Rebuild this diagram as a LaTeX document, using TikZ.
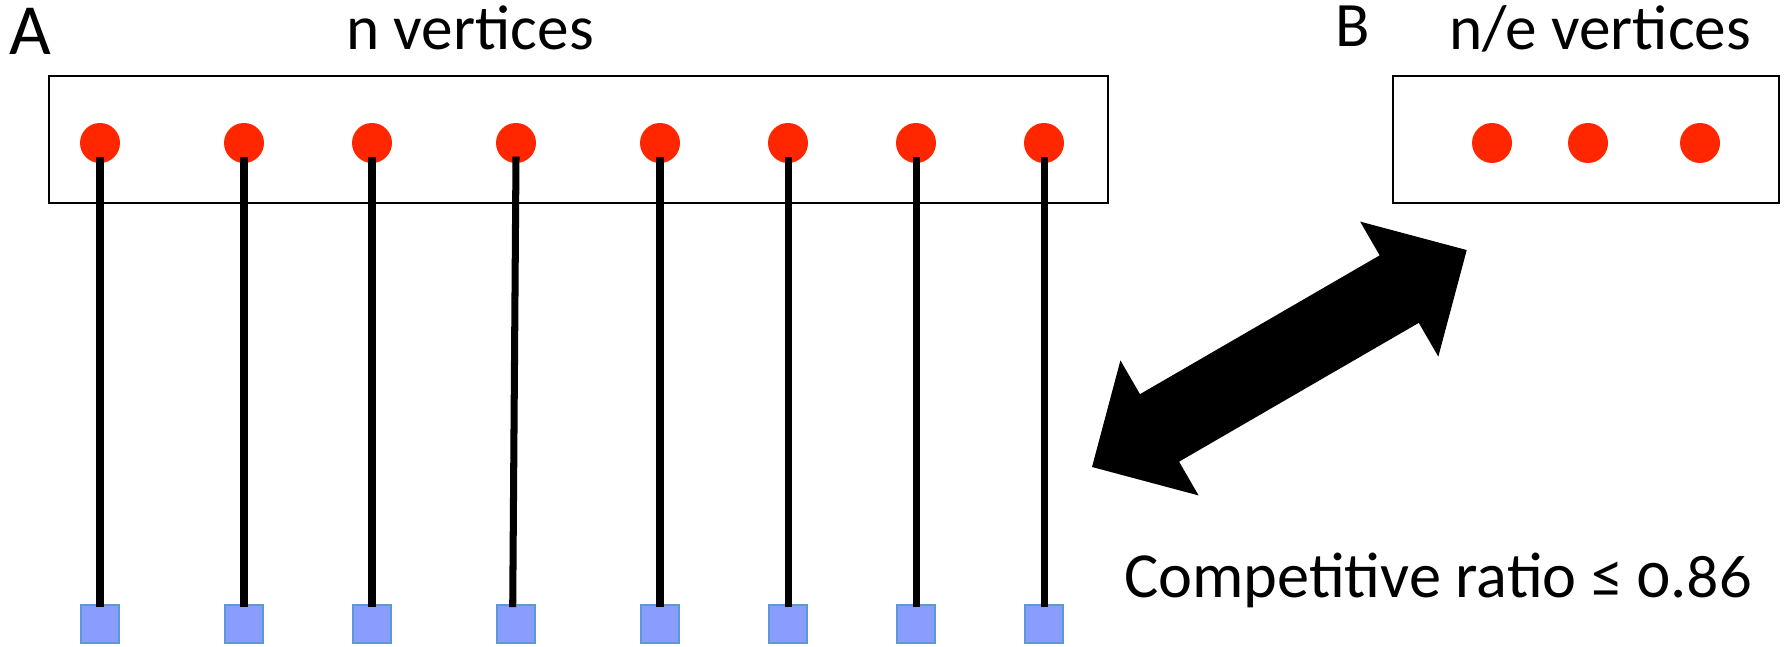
\documentclass[tikz,border=0pt]{standalone}
\usepackage{fontspec}
\setmainfont{Carlito}[Numbers=OldStyle]
\usepackage{tikz}
\usetikzlibrary{positioning}

\definecolor{dotred}{RGB}{255,38,0}
\definecolor{sqfill}{RGB}{138,157,255}
\definecolor{sqedge}{RGB}{91,155,213}

\begin{document}
\begin{tikzpicture}[
    vtx/.style    = {circle, fill=dotred, inner sep=0pt, minimum size=0.40cm},
    sq/.style     = {draw=sqedge, line width=0.8pt, fill=sqfill,
                     inner sep=0pt, minimum size=0.38cm},
    setbox/.style = {draw, line width=0.6pt},
    edge/.style   = {line width=2pt},
    big/.style    = {font=\fontsize{18}{20}\selectfont, anchor=base, inner sep=0pt}
]
    \useasboundingbox (0,0) rectangle (17.85,6.47);

    %-- Headings -------------------------------------------------------------
    \node[big, font=\fontsize{20.5}{22}\selectfont] (labA) at (0.30,5.92) {A};
    \node[big] (labn)  at (4.70,5.97) {n vertices};
    \node[big] (labB)  at (13.53,6.00) {B};
    \node[big] (labne) at (16.00,5.97) {n/e vertices};

    %-- Vertex boxes ---------------------------------------------------------
    \draw[setbox] (0.49,4.44) rectangle (11.08,5.71);
    \draw[setbox] (13.93,4.44) rectangle (17.79,5.71);

    %-- Side A: vertices, partners and matching edges -------------------------
    \foreach \i/\x/\dx in {1/1.00/0, 2/2.44/0, 3/3.72/0, 4/5.16/-0.033,
                           5/6.60/0, 6/7.88/0, 7/9.16/0, 8/10.44/0}{
        \node[vtx] (v\i) at (\x,5.04) {};
        \node[sq]  (u\i) at (\x,0.23) {};
        \draw[edge] ([yshift=2pt]v\i.south) -- ([xshift=\dx cm, yshift=-1pt]u\i.north);
    }

    %-- Side B: the n/e vertices ---------------------------------------------
    \foreach \i/\x in {1/14.92, 2/15.88, 3/17.00}
        \node[vtx] (b\i) at (\x,5.04) {};

    %-- Double block arrow between the two sides ------------------------------
    \begin{scope}[shift={(10.92,1.80)}, rotate=30.07]
        \fill (0,0) -- (0.78,0.78) -- (0.78,0.39) -- (3.55,0.39) -- (3.55,0.78)
              -- (4.33,0) -- (3.55,-0.78) -- (3.55,-0.39) -- (0.78,-0.39)
              -- (0.78,-0.78) -- cycle;
    \end{scope}

    \node[big, font=\fontsize{18.3}{20}\selectfont] (ratio) at (14.38,0.49)
          {Competitive ratio ≤ 0.86};

\end{tikzpicture}
\end{document}
